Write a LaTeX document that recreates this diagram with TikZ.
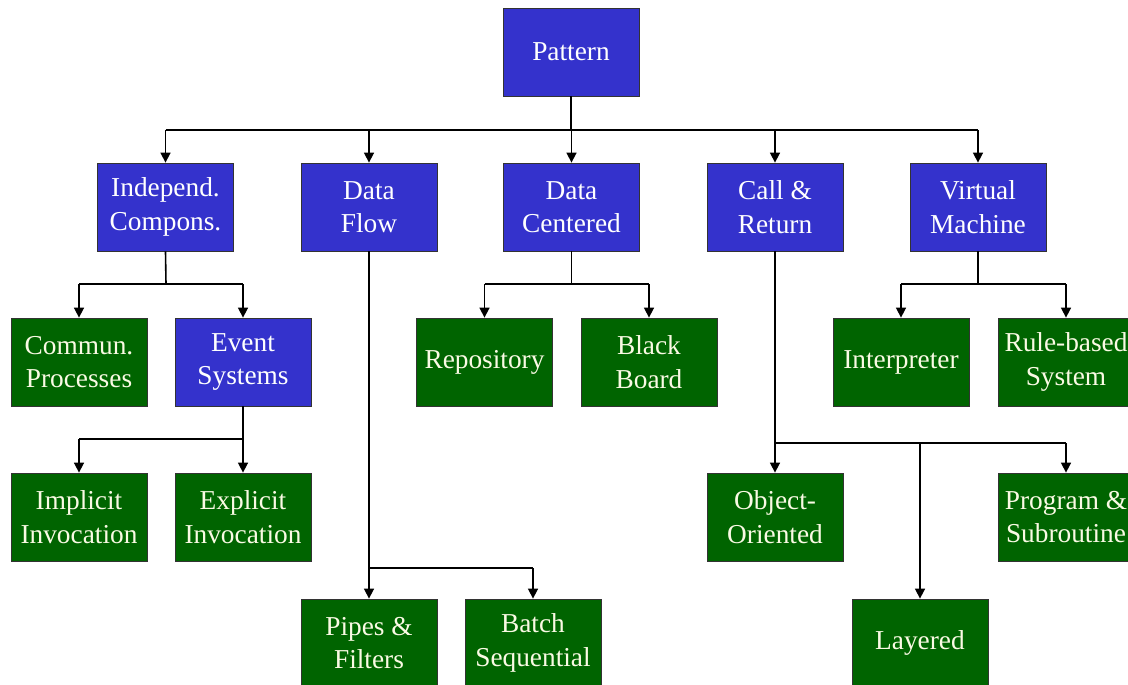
\documentclass[tikz,border=0pt]{standalone}
\usepackage{fontspec}
\setmainfont{Liberation Serif}
\usetikzlibrary{arrows.meta}
\definecolor{patblue}{RGB}{52,50,204}
\definecolor{patgreen}{RGB}{0,100,0}
\definecolor{leaftext}{RGB}{250,250,228}
\tikzset{
	box/.style={draw=black!80, line width=0.6pt, minimum width=102pt, minimum height=66pt,
		inner sep=0pt, align=center, text=white, font=\fontsize{20.5}{25}\selectfont},
	family/.style={box, fill=patblue},
	leaf/.style={box, fill=patgreen, text=leaftext},
	link/.style={line width=1.2pt},
	arr/.style={link, -{Triangle[length=7.5pt,width=7.5pt]}}
}
\begin{document}
\begin{tikzpicture}[x=0.75pt,y=-0.75pt]
	\useasboundingbox (0,0) rectangle (1128,685);

	% --- root ---
	\node[family] (pattern) at (571,52) {Pattern};

	% --- styles ---
	\node[family] (indep)    at (165.5,207) {Independ.\\Compons.};
	\node[family] (flow)     at (369,207)   {Data\\Flow};
	\node[family] (centered) at (571.5,207) {Data\\Centered};
	\node[family] (call)     at (775,207)   {Call \&\\Return};
	\node[family] (virtual)  at (978,207)   {Virtual\\Machine};

	% --- third row ---
	\node[leaf]   (commun)   at (79,362)    {Commun.\\Processes};
	\node[family] (event)    at (243,362)   {Event\\Systems};
	\node[leaf]   (repo)     at (484.5,362) {Repository};
	\node[leaf]   (black)    at (649,362)   {Black\\Board};
	\node[leaf]   (interp)   at (901,362)   {Interpreter};
	\node[leaf]   (rule)     at (1066,362)  {Rule-based\\System};

	% --- fourth row ---
	\node[leaf] (implicit) at (79,517)   {Implicit\\Invocation};
	\node[leaf] (explicit) at (243,517)  {Explicit\\Invocation};
	\node[leaf] (object)   at (775,517)  {Object-\\Oriented};
	\node[leaf] (program)  at (1066,517) {Program \&\\Subroutine};

	% --- bottom row ---
	\node[leaf] (pipes)   at (369,643) {Pipes \&\\Filters};
	\node[leaf] (batch)   at (533,643) {Batch\\Sequential};
	\node[leaf] (layered) at (920,643) {Layered};

	% Bus lines
	\coordinate (bus)   at (571,130);
	\coordinate (ibus)  at (166,284);
	\coordinate (cbus)  at (571.5,284);
	\coordinate (vbus)  at (978,284);
	\coordinate (ebus)  at (243,439);
	\coordinate (fbus)  at (369,568);
	\coordinate (rbus)  at (775,443);

	\draw[link] (pattern.south) -- (bus);
	\draw[link] (indep.north |- bus) -- (virtual.north |- bus);
	\foreach \n in {indep,flow,centered,call,virtual}
		\draw[arr] (\n.north |- bus) -- (\n.north);

	\draw[link] (indep.south) -- (ibus);
	\draw[link] (commun.north |- ibus) -- (event.north |- ibus);
	\foreach \n in {commun,event}
		\draw[arr] (\n.north |- ibus) -- (\n.north);

	\draw[link] (centered.south) -- (cbus);
	\draw[link] (repo.north |- cbus) -- (black.north |- cbus);
	\foreach \n in {repo,black}
		\draw[arr] (\n.north |- cbus) -- (\n.north);

	\draw[link] (virtual.south) -- (vbus);
	\draw[link] (interp.north |- vbus) -- (rule.north |- vbus);
	\foreach \n in {interp,rule}
		\draw[arr] (\n.north |- vbus) -- (\n.north);

	\draw[link] (event.south) -- (ebus);
	\draw[link] (implicit.north |- ebus) -- (explicit.north |- ebus);
	\foreach \n in {implicit,explicit}
		\draw[arr] (\n.north |- ebus) -- (\n.north);

	\draw[link] (flow.south) -- (fbus);
	\draw[link] (pipes.north |- fbus) -- (batch.north |- fbus);
	\foreach \n in {pipes,batch}
		\draw[arr] (\n.north |- fbus) -- (\n.north);

	\draw[link] (call.south) -- (rbus);
	\draw[link] (object.north |- rbus) -- (program.north |- rbus);
	\foreach \n in {object,layered,program}
		\draw[arr] (\n.north |- rbus) -- (\n.north);
\end{tikzpicture}
\end{document}
